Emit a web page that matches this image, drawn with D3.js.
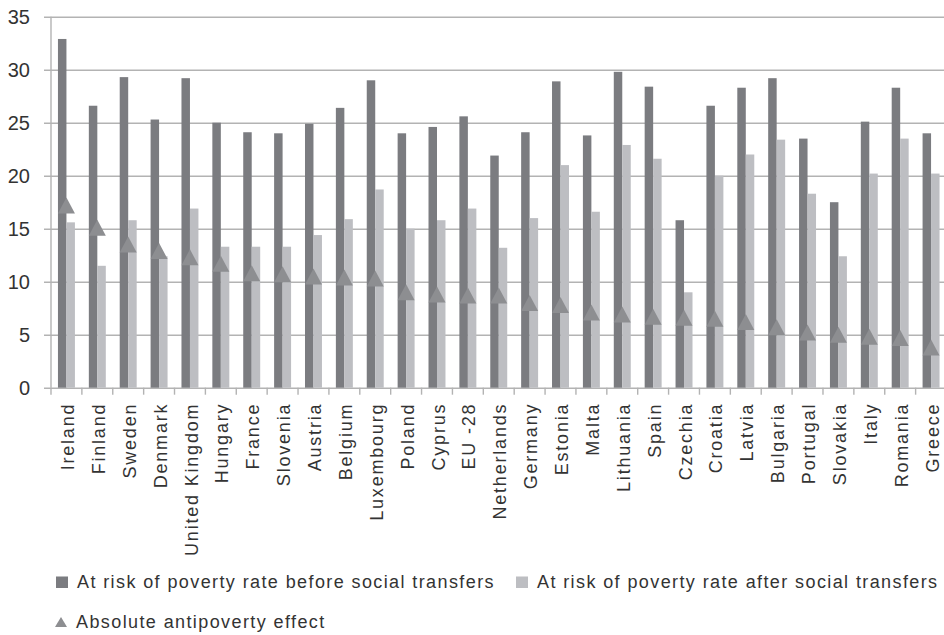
<!DOCTYPE html>
<html>
<head>
<meta charset="utf-8">
<script src="https://cdn.jsdelivr.net/npm/d3@7/dist/d3.min.js"></script>
<style>
  body { margin: 0; background: #fff; }
  svg text { font-family: "Liberation Sans", Arial, sans-serif; fill: #333; }
</style>
</head>
<body>
<div id="chart"></div>
<script>
// countries, sorted by the antipoverty effect
const countries = ["Ireland", "Finland", "Sweden", "Denmark", "United Kingdom", "Hungary", "France",
    "Slovenia", "Austria", "Belgium", "Luxembourg", "Poland", "Cyprus", "EU -28", "Netherlands",
    "Germany", "Estonia", "Malta", "Lithuania", "Spain", "Czechia", "Croatia", "Latvia", "Bulgaria",
    "Portugal", "Slovakia", "Italy", "Romania", "Greece"];

const beforeTransfers = [32.9, 26.6, 29.3, 25.3, 29.2, 25.0, 24.1, 24.0, 24.9, 26.4, 29.0, 24.0, 24.6, 25.6,
    21.9, 24.1, 28.9, 23.8, 29.8, 28.4, 15.8, 26.6, 28.3, 29.2, 23.5, 17.5, 25.1, 28.3, 24.0];

const afterTransfers = [15.6, 11.5, 15.8, 12.4, 16.9, 13.3, 13.3, 13.3, 14.4, 15.9, 18.7, 15.0, 15.8, 16.9,
    13.2, 16.0, 21.0, 16.6, 22.9, 21.6, 9.0, 20.0, 22.0, 23.4, 18.3, 12.4, 20.2, 23.5, 20.2];

const antipovertyEffect = [17.2, 15.1, 13.5, 12.9, 12.3, 11.7, 10.8, 10.7, 10.5, 10.4, 10.3, 9.0, 8.8, 8.7,
    8.7, 8.0, 7.8, 7.1, 6.9, 6.7, 6.6, 6.5, 6.2, 5.7, 5.2, 5.0, 4.8, 4.7, 3.8];

const yTicks = [0, 5, 10, 15, 20, 25, 30, 35];

const legendLabels = [
    "At risk of poverty rate before social transfers",
    "At risk of poverty rate after social transfers",
    "Absolute antipoverty effect"
];

const colors = { before: "#7b7c80", after: "#bdbec2", effect: "#8d8e91", grid: "#b3b3b3" };

const width = 944, height = 635;
const plot = { left: 51, right: 946.5, top: 16.7, bottom: 387.7 };

const svg = d3.select("#chart").append("svg")
    .attr("width", width)
    .attr("height", height);

const x = d3.scaleBand().domain(countries).range([plot.left, plot.right]).padding(0);
const xInner = d3.scaleBand().domain(["before", "after"]).range([0, x.bandwidth()])
    .paddingInner(0).paddingOuter(0.82);
const y = d3.scaleLinear().domain([0, 35]).range([plot.bottom, plot.top]);

// gridlines (starting a bit left of the axis, like tick marks)
const grid = svg.append("g")
    .attr("transform", `translate(${plot.left - 7},0)`)
    .call(d3.axisRight(y).tickValues(yTicks).tickSize(width - plot.left + 7).tickFormat(""));
grid.select(".domain").remove();
grid.selectAll("line").attr("stroke", colors.grid).attr("stroke-width", 1.4);

// y tick labels
const yAxis = svg.append("g")
    .attr("transform", `translate(${plot.left - 7},0)`)
    .call(d3.axisLeft(y).tickValues(yTicks).tickSize(0).tickPadding(14));
yAxis.select(".domain").remove();
yAxis.selectAll("text")
    .attr("font-size", 20)
    .attr("font-family", "Liberation Sans, Arial, sans-serif")
    .attr("fill", "#333");

// vertical axis line
svg.append("line")
    .attr("x1", plot.left).attr("x2", plot.left)
    .attr("y1", y(35)).attr("y2", y(0))
    .attr("stroke", colors.grid).attr("stroke-width", 1.4);

// category tick marks at band boundaries
const boundaries = countries.map(c => x(c)).concat([x(countries[countries.length - 1]) + x.bandwidth()]);
svg.append("g").selectAll("line")
    .data(boundaries)
    .join("line")
    .attr("x1", d => d).attr("x2", d => d)
    .attr("y1", y(0)).attr("y2", y(0) + 7)
    .attr("stroke", colors.grid).attr("stroke-width", 1.4);

const rows = countries.map((c, i) => ({
    country: c,
    before: beforeTransfers[i],
    after: afterTransfers[i],
    effect: antipovertyEffect[i]
}));

// bars
const groups = svg.append("g").selectAll("g")
    .data(rows)
    .join("g")
    .attr("transform", d => `translate(${x(d.country)},0)`);

groups.append("rect")
    .attr("x", xInner("before"))
    .attr("width", xInner.bandwidth())
    .attr("y", d => y(d.before))
    .attr("height", d => y(0) - y(d.before))
    .attr("fill", colors.before);

groups.append("rect")
    .attr("x", xInner("after"))
    .attr("width", xInner.bandwidth())
    .attr("y", d => y(d.after))
    .attr("height", d => y(0) - y(d.after))
    .attr("fill", colors.after);

// triangle markers
const triangle = (w, h) => `M0,${-h / 2}L${w / 2},${h / 2}L${-w / 2},${h / 2}Z`;
svg.append("g").selectAll("path")
    .data(rows)
    .join("path")
    .attr("d", triangle(17, 16))
    .attr("transform", d => `translate(${x(d.country) + x.bandwidth() / 2},${y(d.effect)})`)
    .attr("fill", colors.effect);

// category labels
const xAxis = svg.append("g")
    .attr("transform", `translate(0,${plot.bottom})`)
    .call(d3.axisBottom(x).tickSize(0).tickPadding(0));
xAxis.select(".domain").remove();
xAxis.selectAll("text")
    .attr("font-size", 18)
    .attr("font-family", "Liberation Sans, Arial, sans-serif")
    .attr("fill", "#333")
    .attr("letter-spacing", "1.8px")
    .attr("text-anchor", "end")
    .attr("transform", "translate(0,15) rotate(-90)")
    .attr("x", 0)
    .attr("y", 0)
    .attr("dy", "0.42em");

// legend
const legend = svg.append("g").attr("font-size", 18);
const legendItems = [
    { label: legendLabels[0], color: colors.before, shape: "rect", x: 56, y: 588 },
    { label: legendLabels[1], color: colors.after, shape: "rect", x: 516, y: 588 },
    { label: legendLabels[2], color: colors.effect, shape: "tri", x: 55, y: 628 }
];
legendItems.forEach(item => {
    const g = legend.append("g").attr("transform", `translate(${item.x},${item.y})`);
    if (item.shape === "rect") {
        g.append("rect").attr("x", 0).attr("y", -11.5).attr("width", 12).attr("height", 11.5)
            .attr("fill", item.color);
    } else {
        g.append("path").attr("d", triangle(12, 10)).attr("transform", "translate(6,-6)")
            .attr("fill", item.color);
    }
    g.append("text")
        .attr("x", 21)
        .attr("y", 0)
        .attr("letter-spacing", "1.4px")
        .text(item.label);
});
</script>
</body>
</html>
